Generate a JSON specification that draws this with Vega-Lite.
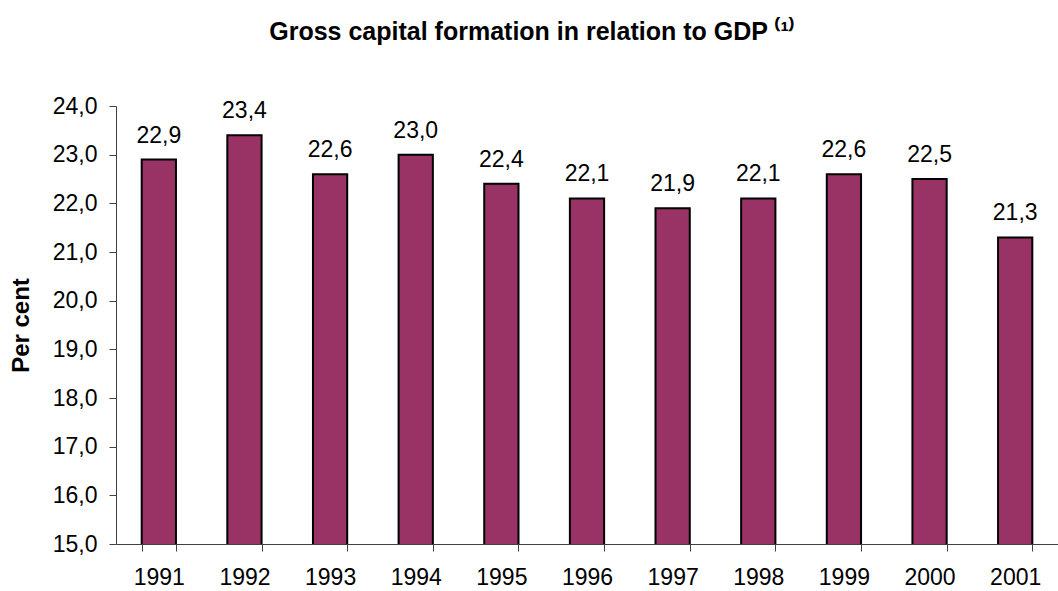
{
  "$schema": "https://vega.github.io/schema/vega-lite/v6.json",
  "width": 942,
  "height": 438,
  "autosize": {"type": "none"},
  "padding": {"left": 116, "top": 106, "right": 0, "bottom": 47},
  "background": "white",
  "config": {
    "font": "Liberation Sans",
    "view": {"stroke": null},
    "locale": {"number": {"decimal": ",", "thousands": ".", "grouping": [3], "currency": ["", " €"]}}
  },
  "title": {
    "text": "Gross capital formation in relation to GDP ⁽¹⁾",
    "fontSize": 25,
    "fontWeight": "bold",
    "color": "black",
    "anchor": "middle",
    "dx": -55,
    "offset": 50
  },
  "data": {
    "values": [
      {"year": "1991", "value": 22.9},
      {"year": "1992", "value": 23.4},
      {"year": "1993", "value": 22.6},
      {"year": "1994", "value": 23.0},
      {"year": "1995", "value": 22.4},
      {"year": "1996", "value": 22.1},
      {"year": "1997", "value": 21.9},
      {"year": "1998", "value": 22.1},
      {"year": "1999", "value": 22.6},
      {"year": "2000", "value": 22.5},
      {"year": "2001", "value": 21.3}
    ]
  },
  "encoding": {
    "x": {
      "field": "year",
      "type": "ordinal",
      "scale": {"paddingInner": 0.6, "paddingOuter": 0.3},
      "axis": {
        "title": null,
        "labelAngle": 0,
        "labelFontSize": 23,
        "labelColor": "black",
        "labelPadding": 15,
        "tickBand": "extent",
        "tickSize": 7,
        "tickColor": "#404040",
        "domainColor": "#404040",
        "domainWidth": 1
      }
    },
    "y": {
      "field": "value",
      "type": "quantitative",
      "scale": {"domain": [15, 24], "nice": false, "zero": false},
      "axis": {
        "title": "Per cent",
        "titleFontSize": 24,
        "titleFontWeight": "bold",
        "titleColor": "black",
        "titlePadding": 19,
        "values": [15, 16, 17, 18, 19, 20, 21, 22, 23, 24],
        "format": ".1f",
        "labelFontSize": 23,
        "labelColor": "black",
        "labelPadding": 12,
        "tickSize": 7,
        "tickColor": "#404040",
        "domainColor": "#404040",
        "grid": false
      }
    }
  },
  "layer": [
    {
      "mark": {"type": "bar", "color": "#993366", "stroke": "black", "strokeWidth": 2, "clip": true}
    },
    {
      "mark": {"type": "text", "baseline": "alphabetic", "dy": -17, "fontSize": 23, "color": "black"},
      "encoding": {
        "text": {"field": "value", "type": "quantitative", "format": ".1f"}
      }
    }
  ]
}
